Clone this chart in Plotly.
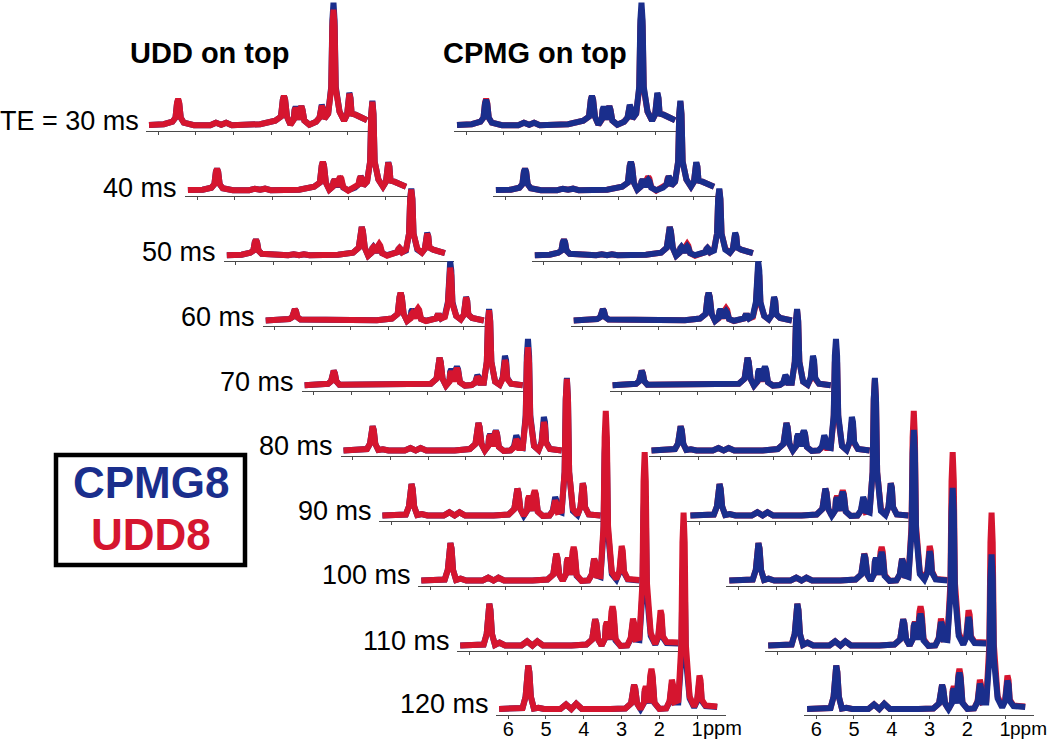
import plotly.graph_objects as go

# chemical shift sampling (ppm), shared by all spectra
PPM = [6.24,5.85,5.62,5.54,5.50,5.47,5.44,5.40,5.32,5.2,5.05,4.62,4.47,4.33,4.2,4.05,3.3,2.9,2.75,2.70,2.67,2.64,2.59,2.5,2.41,2.39,2.36,2.33,2.29,2.24,2.21,2.18,2.13,2.0,1.82,1.73,1.70,1.67,1.64,1.6,1.5,1.42,1.39,1.36,1.33,1.30,1.2,1.08,1.0,0.97,0.94,0.91,0.88,0.78,0.65,0.47]

TE_LABELS = ["TE = 30 ms","40 ms","50 ms","60 ms","70 ms","80 ms","90 ms","100 ms","110 ms","120 ms"]

UDD_30=[5.7,6.5,9, 13,28,32,28,13, 8,6.5,5.5,5.5,8,6,8,5.5,6.5,10, 14,31,35,31,14, 6, 11,20,23,20,11, 21,24.5,21, 10,6,9, 13,22,25,22,12, 17, 42,104,121,104,42, 19,10, 16,32,37,32,17, 16,14,10.5]
UDD_40=[5.6,6,8, 11.5,24,27,24,11.5, 7.5,6,5.5,5.5,7,6,7,5.5,6,9, 13,30,34,30,13, 6, 9,14,16,14,9, 17,19,17, 8.5,5,8, 11,17,19,17,10, 14, 34,81,94,81,34, 16,9, 14,29,33,29,15, 14,12,9]
UDD_50=[5.5,6,8, 10,18.5,21,18.5,10, 7,6.7,5.5,5.5,6.5,5.5,6.5,5.5,6,8, 13,29.5,33.7,29.5,13, 5, 8,12.5,13.7,12.5,8, 15,16.7,15, 7.5,5,7, 8.5,11.5,12.7,11.5,8.5, 11, 27,61,71,61,27, 12,8, 12,24,27,24,13, 11,9.5,7.5]
UDD_60=[5.5,5.8,7, 8.7,15,16.7,15,8.7, 6.5,6.5,5.5,5.5,6.5,5.5,6.5,5.5,5.8,7.5, 12,29,33.3,29,12, 5, 7.5,11.5,13,11.5,7.5, 16,17.7,16, 7,5,6.5, 7.5,10.3,11.3,10.3,7.5, 9, 22,50,58.3,50,22, 10,6.5, 11,25,28.7,25,11.5, 8,7,5.5]
UDD_70=[5.5,5.7,7, 9.5,17.5,20,17.5,9.5, 6,6,5.5,5.5,6.5,5.5,6.5,5.5,5.6,7, 12,29,33,29,12, 5.2, 9,17,19.3,17,9, 20,22.7,20, 8.5,5.2,5.8, 8,12.5,14,12.5,8, 8, 29,69,80.5,69,29, 9,6, 12,27,30.7,27,12, 7,6.3,5.5]
UDD_80=[5.5,5.6,7, 12.3,26,29.7,26,12.3, 6,6.7,5.5,5.5,8,5.5,8,5.5,5.6,7, 12,29,33,29,12, 5.5, 10,18.5,21,18.5,9.5, 22,25,22, 9,5,5.6, 8.5,15,16.7,15,8, 8, 38,93,108.7,93,38, 10,6, 13,30,34,30,13, 7,6,5.5]
UDD_90=[5.5,5.5,6.5, 14.4,32,37,32,14.4, 6,7,5.5,5.5,8.7,5.5,8.7,5.5,5.5,6.5, 12,28.5,32.3,28.5,12, 5.3, 11,22,25,22,10, 27,30.7,27, 9.5,5,5.5, 10,18,20.7,18,9, 10, 49,121,142,121,49, 12,6, 14,33,37.7,33,14, 6.5,6,5.5]
UDD_100=[5.5,5.5,6.5, 16,37.5,43,37.5,16, 6,7.3,5.5,5.5,8.3,5.5,8.3,5.5,5.5,6.5, 11.5,28.5,32.3,28.5,11.5, 5.5, 12,24.5,28,24.5,11, 34,39,34, 11,5,5.5, 11.5,24,27.3,24,10.5, 10, 60,149,175,149,60, 14,7, 15,35,40,35,15, 7,6.5,6]
UDD_110=[5.5,5.5,6.5, 17,41,47.3,41,17, 6,8.3,5.5,5.5,9.7,5.5,9.7,5.5,5.5,6.5, 11.5,28,31.7,28,11.5, 5.5, 12.5,25.5,29,25.5,11.5, 39,44.7,39, 12,5,5.5, 13,28,32.3,28,12, 13, 68,170,199,170,68, 18,7, 15,36,40.7,36,15, 9,8.5,8.5]
UDD_120=[5.5,5.5,6.5, 17.7,42.5,49,42.5,17.7, 6,6.7,5.5,5.5,10,5.5,10.7,5.5,5.5,6, 11,26,29.7,26,11, 5.5, 12,24.5,28,24.5,11.5, 39.5,45.7,39.5, 12,5.5,6, 13.5,30,34.7,30,12.5, 14, 70,172,202,172,70, 18,8, 15,34,39,34,15, 9,8.5,8]

CPMG_30=[5.7,6.5,9, 13,27,31,27,13, 8,6.5,5.5,5.5,8,6,8,5.5,6.5,10, 14,31,35,31,14, 6, 11.5,21,24,21,11, 21,24.5,21, 10,6,9, 13,23,26,23,12, 17, 44,110,128,110,44, 19,10, 16,33,38,33,17, 16,14,10.5]
CPMG_40=[5.6,6,8, 11.5,24,27,24,11.5, 7.5,6,5.5,5.5,7,6,7,5.5,6,9, 13,30,34,30,13, 6, 9,14,16,14,8.5, 14.5,16,14.5, 8,5.5,8, 11,17.5,19.5,17.5,10, 14, 34,82,95,82,34, 16,9, 14,29.5,33.5,29.5,15, 14,12,9]
CPMG_50=[5.5,6,8, 10,18.5,21,18.5,10, 7,6.7,5.5,5.5,6.5,5.5,6.5,5.5,6,8, 13,29.5,33.7,29.5,13, 5, 8,12.5,14,12.5,8, 13,14.5,13, 7.5,5.5,7, 8.5,11.5,12.7,11.5,8.5, 10, 27,62,72,62,27, 11,8, 12,24.5,28,24.5,13, 11,9.5,7.5]
CPMG_60=[5.5,5.8,7, 8.7,15,16.7,15,8.7, 6.5,6.5,5.5,5.5,6.5,5.5,6.5,5.5,5.8,7.5, 12,29,33.3,29,12, 5, 8,14.5,16.5,14.5,8, 13.5,15,13.5, 7,5.2,6.5, 7.5,10.3,11.3,10.3,7.5, 10, 24,55.5,64.7,55.5,24, 10,6.5, 11,25.5,29,25.5,11.5, 8,7,5.5]
CPMG_70=[5.5,5.7,7, 9.5,17.5,20,17.5,9.5, 6,6,5.5,5.5,6.5,5.5,6.5,5.5,5.6,7, 12,29,33,29,12, 5.2, 9.5,19,21.7,19,9.5, 21.5,24.3,21.5, 8.5,5.2,5.8, 8,14,15.7,14,8, 8, 29,70,81.7,70,29, 9,6, 13,30.5,35,30.5,13, 7,6.3,5.5]
CPMG_80=[5.5,5.6,7, 12.3,26,29.7,26,12.3, 6,6.7,5.5,5.5,8,5.5,8,5.5,5.6,7, 12,29,33,29,12, 5.5, 10,19,22,19,9.5, 22.5,25.5,22.5, 9,5,5.6, 9.5,18,20.7,18,9, 8, 41,100,117,100,41, 10,6, 14,34,39,34,14, 7,6,5.5]
CPMG_90=[5.5,5.5,6.5, 14.4,32,37,32,14.4, 6,7,5.5,5.5,8.7,5.5,8.7,5.5,5.5,6.5, 12,28.5,32.3,28.5,12, 5.3, 10.5,20.5,23.5,20.5,10, 25.5,29,25.5, 9.5,5,5.5, 10.5,21,24,21,10, 8.5, 49,122,143,122,49, 10,6, 14,33,37.7,33,14, 6.5,6,5.5]
CPMG_100=[5.5,5.5,6.5, 16,37.5,43,37.5,16, 6,7.3,5.5,5.5,8.3,5.5,8.3,5.5,5.5,6.5, 11.5,28,32,28,11.5, 5.5, 12,24.5,28,24.5,11, 30,34,30, 10,5,5.5, 11.5,23.5,27,23.5,10.5, 9, 54,133,156,133,54, 12,6.5, 13.5,30.5,34.7,30.5,13.5, 6.5,6,5.5]
CPMG_110=[5.5,5.5,6.5, 17,41,47.3,41,17, 6,8.3,5.5,5.5,9.7,5.5,9.7,5.5,5.5,6.5, 11.5,28,31.7,28,11.5, 5.5, 12.5,25,28.3,25,11, 32.5,37.3,32.5, 10.5,5,5.5, 12,25.5,29,25.5,11.5, 11, 57,139,163,139,57, 15,6.5, 13.5,30,34,30,13.5, 8,7.5,7.5]
CPMG_120=[5.5,5.5,6.5, 17.7,42.5,49,42.5,17.7, 6,6.7,5.5,5.5,10,5.5,10.7,5.5,5.5,6, 11,26,29.7,26,11, 5.5, 11.5,22.5,25.7,22.5,11, 36.5,42,36.5, 11.5,5.5,6, 12.5,27,31,27,12, 12, 56,136,160,136,56, 16,7, 13.5,30,34,30,13.5, 8.5,8,7.5]

UDD = [UDD_30,UDD_40,UDD_50,UDD_60,UDD_70,UDD_80,UDD_90,UDD_100,UDD_110,UDD_120]
CPMG = [CPMG_30,CPMG_40,CPMG_50,CPMG_60,CPMG_70,CPMG_80,CPMG_90,CPMG_100,CPMG_110,CPMG_120]

TICKS = [6,5,4,3,2,1]
PPM_RANGE = [6.32,0.235]

RED = "#D5152F"
BLUE = "#1A2E8C"
AXIS = "#4a4a4a"
FONT = "Liberation Sans"
W, H = 1050, 739

# layout of the cascaded panels, in pixels
AX_W = 230
X0 = [146, 454]
DX = 38.9
Y_AXIS = [130.7,195.7,260.7,326,390.8,456,521,586,651,714.5]
Y_LABEL = [121,187.5,252,316.7,381.7,446,510.7,575,640.7,704]
LW = 6

fig = go.Figure()
layout = {}
n = 0
for col, order in enumerate([(CPMG, BLUE, UDD, RED), (UDD, RED, CPMG, BLUE)]):
    for row in range(10):
        n += 1
        sfx = "" if n == 1 else str(n)
        left = X0[col] + DX * row
        top_h = min(Y_AXIS[row], 215)
        layout["xaxis" + sfx] = dict(
            domain=[left / W, min((left + AX_W) / W, 1)],
            range=PPM_RANGE if left + AX_W <= W else [PPM_RANGE[0], PPM_RANGE[0] + (W - left) * (PPM_RANGE[1] - PPM_RANGE[0]) / AX_W],
            anchor="y" + sfx, showgrid=False, zeroline=False, showline=True, automargin=False,
            linecolor=AXIS, linewidth=1.3, ticks="outside", ticklen=3, tickwidth=1, tickcolor=AXIS,
            tickmode="array", tickvals=TICKS, ticktext=[str(t) for t in TICKS],
            showticklabels=row == 9, tickfont=dict(family=FONT, size=20, color="black"), ticklabelstandoff=-7,
        )
        layout["yaxis" + sfx] = dict(
            domain=[(H - Y_AXIS[row]) / H, (H - Y_AXIS[row] + top_h) / H],
            range=[0, top_h], anchor="x" + sfx, visible=False, automargin=False,
        )
        for series, color in ((order[0], order[1]), (order[2], order[3])):
            fig.add_trace(go.Scatter(
                x=PPM, y=series[row][:], mode="lines", xaxis="x" + sfx, yaxis="y" + sfx,
                line=dict(color=color, width=LW, shape="linear"), cliponaxis=False,
                showlegend=False, hoverinfo="skip",
            ))

def px_note(text, x, y, size, color="black", bold=False, xanchor="center"):
    return dict(text=f"<b>{text}</b>" if bold else text, xref="paper", yref="paper", x=x / W, y=(H - y) / H,
                xanchor=xanchor, yanchor="middle", showarrow=False,
                font=dict(family=FONT, size=size, color=color))

notes = []
for row, label in enumerate(TE_LABELS):
    notes.append(px_note(label, 140.5 + DX * row, Y_LABEL[row], 27, xanchor="right"))
notes.append(px_note("UDD on top", 209, 53, 29, bold=True))
notes.append(px_note("CPMG on top", 535, 53, 29, bold=True))
notes.append(px_note("CPMG8", 151, 482, 44, BLUE, True))
notes.append(px_note("UDD8", 151, 535, 44, RED, True))
for col_px, size in ((701, 20), (1008, 19)):
    notes.append(px_note("ppm", col_px, 728, size, xanchor="left"))

box = dict(type="rect", xref="paper", yref="paper", x0=56 / W, x1=245 / W, y0=(H - 565) / H, y1=(H - 455) / H,
           line=dict(color="black", width=4.5), fillcolor="white", layer="below")

fig.update_layout(width=W, height=H, margin=dict(l=0, r=0, t=0, b=0, autoexpand=False), paper_bgcolor="white", plot_bgcolor="rgba(0,0,0,0)",
                  annotations=notes, shapes=[box], showlegend=False, **layout)
fig.write_html("out.html", post_script="document.body.style.margin='0';document.body.style.height='739px';document.documentElement.style.height='739px';document.documentElement.style.overflow='hidden';document.body.style.overflow='hidden';",
               config={"displayModeBar": False})
